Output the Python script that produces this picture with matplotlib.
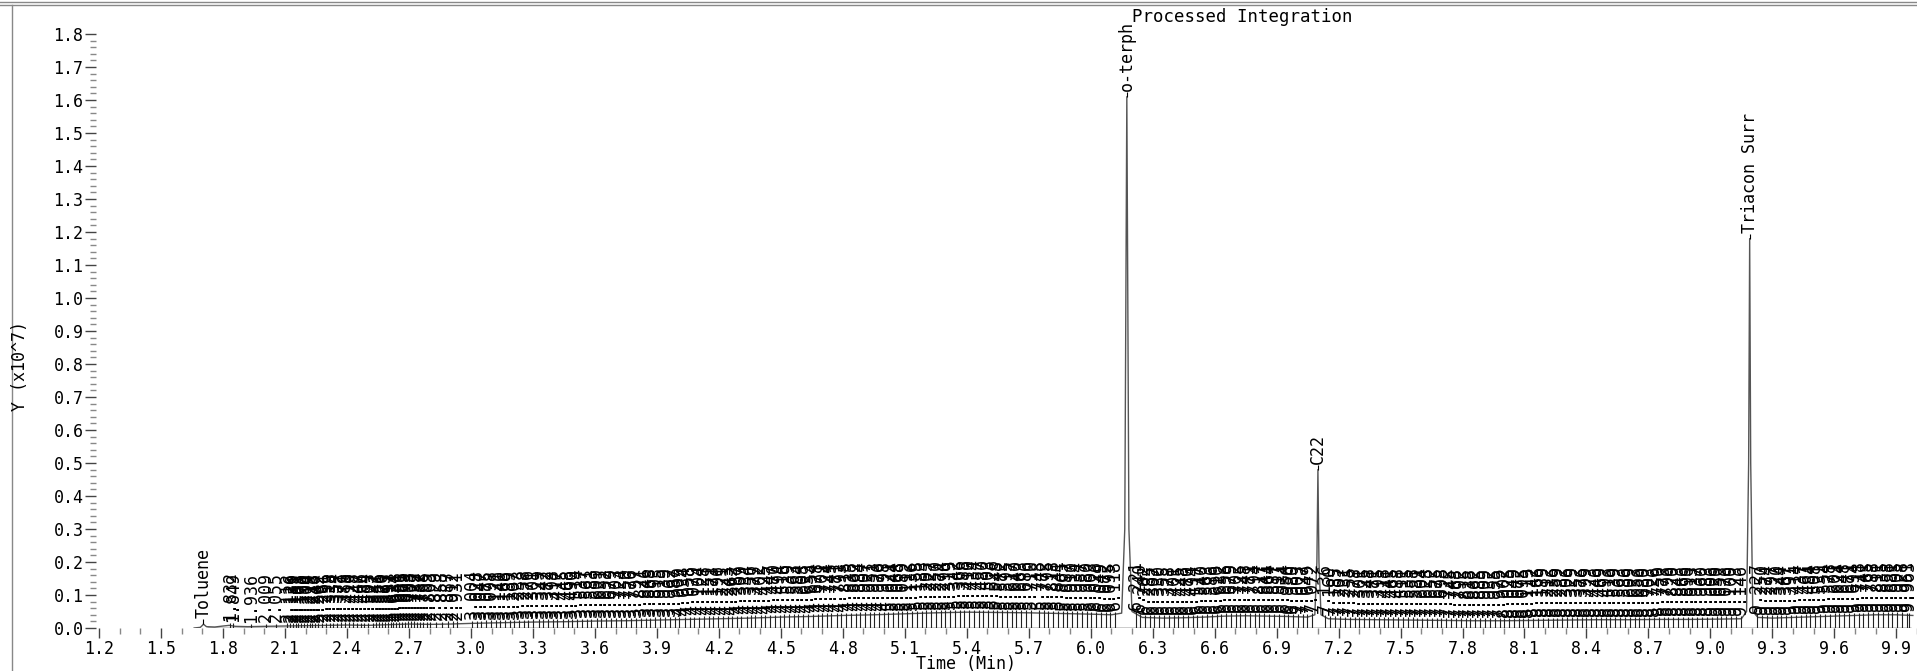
import numpy as np
import matplotlib
matplotlib.use("Agg")
import matplotlib.pyplot as plt
from matplotlib.ticker import MultipleLocator
from matplotlib.lines import Line2D

plt.rcParams['font.family'] = ['DejaVu Sans Mono']

# chromatogram trace (time in min, signal in 1e7)
trace_t = [1.66, 1.69, 1.700, 1.705, 1.712, 1.72, 1.76, 1.80, 1.83, 1.86, 1.92, 2.00,
           2.10, 2.20, 2.30, 2.40, 2.50, 2.60, 2.70, 2.80, 2.90, 3.00, 3.15, 3.30,
           3.45, 3.60, 3.75, 3.90, 4.05, 4.20, 4.35, 4.50, 4.65, 4.80, 4.95, 5.10,
           5.25, 5.40, 5.55, 5.70, 5.85, 6.00, 6.10, 6.150, 6.165, 6.175, 6.185, 6.200,
           6.25, 6.35, 6.45, 6.55, 6.65, 6.75, 6.85, 6.95, 7.05, 7.085, 7.095, 7.100,
           7.105, 7.115, 7.15, 7.25, 7.40, 7.55, 7.70, 7.85, 8.00, 8.15, 8.30, 8.45,
           8.60, 8.75, 8.90, 9.05, 9.15, 9.175, 9.185, 9.190, 9.195, 9.205, 9.23, 9.30,
           9.40, 9.50, 9.60, 9.70, 9.80, 9.90, 9.98]
trace_y = [0.000, 0.002, 0.008, 0.012, 0.008, 0.004, 0.003, 0.006, 0.008, 0.005, 0.004, 0.005,
           0.006, 0.007, 0.008, 0.009, 0.008, 0.010, 0.012, 0.011, 0.012, 0.014, 0.016, 0.018,
           0.019, 0.021, 0.022, 0.024, 0.026, 0.028, 0.030, 0.033, 0.035, 0.038, 0.040, 0.043,
           0.046, 0.048, 0.047, 0.046, 0.044, 0.042, 0.040, 0.045, 0.300, 1.610, 0.300, 0.050,
           0.032, 0.030, 0.031, 0.033, 0.036, 0.037, 0.036, 0.035, 0.033, 0.040, 0.200, 0.480,
           0.200, 0.040, 0.028, 0.026, 0.025, 0.024, 0.023, 0.022, 0.022, 0.023, 0.024, 0.025,
           0.025, 0.026, 0.026, 0.027, 0.028, 0.050, 0.500, 1.180, 0.500, 0.050, 0.032, 0.030,
           0.032, 0.034, 0.036, 0.038, 0.040, 0.040, 0.038]

# named peaks
named_rt = [1.705, 6.175, 7.100, 9.190]
named_txt = ["Toluene", "o-terph", "C22", "Triacon Surr"]

# unnamed integrated peaks (retention times printed as labels)
peak_rt = [
    1.832, 1.849, 1.936, 2.009, 2.055,
    2.112, 2.126, 2.139, 2.151, 2.163, 2.178, 2.190, 2.204, 2.219, 2.233, 2.246, 2.262,
    2.281, 2.296, 2.318, 2.334, 2.352, 2.371, 2.389, 2.410, 2.428, 2.447, 2.466, 2.484,
    2.503, 2.527, 2.541, 2.556, 2.570, 2.583, 2.597, 2.611, 2.624, 2.638, 2.651, 2.665,
    2.679, 2.693, 2.708, 2.722, 2.737, 2.752, 2.768, 2.785, 2.803, 2.829, 2.858, 2.887,
    2.912, 2.931,
    3.004, 3.028, 3.047, 3.075, 3.098, 3.121, 3.140, 3.166, 3.189, 3.207, 3.233, 3.258,
    3.276, 3.301, 3.329, 3.347, 3.372, 3.398, 3.417, 3.445, 3.468, 3.490, 3.514, 3.537,
    3.561, 3.583, 3.609, 3.631, 3.652, 3.679, 3.703, 3.724, 3.750, 3.776, 3.797, 3.821,
    3.846, 3.868, 3.893, 3.915, 3.939, 3.962, 3.987, 4.009, 4.034, 4.058, 4.079, 4.104,
    4.128, 4.151, 4.173, 4.196,
    4.221, 4.243, 4.262, 4.287, 4.309, 4.334, 4.356, 4.377, 4.402, 4.425, 4.447, 4.470,
    4.494, 4.516, 4.539, 4.563, 4.584, 4.608, 4.633, 4.654, 4.678, 4.701, 4.724, 4.745,
    4.771, 4.793, 4.815, 4.838, 4.862, 4.884, 4.907, 4.931, 4.953, 4.976, 4.998,
    5.021, 5.044, 5.068, 5.089, 5.112, 5.136, 5.158, 5.183, 5.205, 5.227, 5.250, 5.274,
    5.296, 5.319, 5.342, 5.366, 5.388, 5.410, 5.434, 5.457, 5.480, 5.503, 5.526, 5.548,
    5.572, 5.595, 5.617, 5.640, 5.663, 5.686, 5.710, 5.748, 5.772, 5.795, 5.818, 5.841,
    5.865, 5.887, 5.910, 5.934, 5.957, 5.980, 6.003, 6.026, 6.049, 6.072, 6.095, 6.118,
    6.221, 6.240, 6.262, 6.285, 6.307, 6.330, 6.355, 6.378, 6.401, 6.425, 6.448, 6.470,
    6.494, 6.517, 6.540, 6.563, 6.586, 6.610, 6.632, 6.656, 6.679, 6.702, 6.725, 6.748,
    6.771, 6.794, 6.817, 6.841, 6.864, 6.887, 6.911, 6.934, 6.956, 6.980, 7.003, 7.027,
    7.049, 7.072,
    7.136, 7.160, 7.185, 7.207, 7.231, 7.255, 7.278, 7.301, 7.325, 7.348, 7.371, 7.395,
    7.418, 7.441, 7.465, 7.488, 7.511, 7.535, 7.558, 7.581, 7.604, 7.628, 7.652, 7.675,
    7.698, 7.722, 7.745, 7.768, 7.792, 7.815, 7.838, 7.862, 7.885, 7.909, 7.932, 7.955,
    7.979, 8.002, 8.025, 8.049, 8.072, 8.095, 8.119, 8.142, 8.166, 8.189, 8.212, 8.236,
    8.259, 8.282, 8.306, 8.329, 8.352, 8.376, 8.399, 8.423, 8.446, 8.469, 8.493, 8.516,
    8.539, 8.563, 8.586, 8.609, 8.633, 8.656, 8.680, 8.703, 8.726, 8.750, 8.773, 8.796,
    8.820, 8.843, 8.866, 8.890, 8.913, 8.937, 8.960, 8.983, 9.006, 9.030, 9.053, 9.076,
    9.100, 9.123, 9.146,
    9.227, 9.250, 9.274, 9.297, 9.320, 9.344, 9.367, 9.391, 9.414, 9.437, 9.461, 9.484,
    9.508, 9.531, 9.554, 9.578, 9.601, 9.624, 9.648, 9.671, 9.694, 9.718, 9.741, 9.765,
    9.788, 9.811, 9.835, 9.858, 9.881, 9.905, 9.928, 9.951, 9.963,
]

W, H = 1917, 671
fig = plt.figure(figsize=(W / 100, H / 100), dpi=100)
ax = fig.add_axes([96 / W, 43 / H, (W - 96) / W, 594 / H])
ax.set_xlim(1.185, 10.0)
ax.set_ylim(0, 1.8)
for s in ax.spines.values():
    s.set_visible(False)

ax.plot(trace_t, trace_y, color='#555555', lw=1.0)
ax.hlines(0, 1.72, 9.97, color='black', lw=1.0)

base = np.interp(peak_rt, trace_t, trace_y)
ax.vlines(peak_rt, 0, base + 0.008, color='#222222', lw=0.8)
for rt, b in zip(peak_rt, base):
    ax.text(rt, b + 0.012, f"{rt:.3f}", rotation=90, ha='center', va='bottom',
            fontsize=12, color='black', clip_on=False)

named_base = np.interp(named_rt, trace_t, trace_y)
for rt, b, name in zip(named_rt, named_base, named_txt):
    ax.vlines(rt, b, b + 0.015, color='black', lw=0.8)
    ax.text(rt, b + 0.017, name, rotation=90, ha='center', va='bottom',
            fontsize=12, color='black', clip_on=False)

ax.xaxis.set_major_locator(MultipleLocator(0.3))
ax.xaxis.set_minor_locator(MultipleLocator(0.1))
ax.yaxis.set_major_locator(MultipleLocator(0.1))
ax.yaxis.set_minor_locator(MultipleLocator(0.02))
ax.xaxis.set_major_formatter(lambda v, p: f"{v:.1f}")
ax.yaxis.set_major_formatter(lambda v, p: f"{v:.1f}")
ax.tick_params(which='major', direction='out', length=7, width=1, color='#444444',
               labelsize=12, pad=2)
ax.tick_params(which='minor', direction='out', length=4, width=1, color='#888888')
ax.tick_params(axis='y', which='major', length=8, pad=1)

fig.text(20 / W, 1 - 366 / H, "Y (x10^7)", rotation=90, ha='center', va='center', fontsize=12)
fig.text(966 / W, 1 - 664 / H, "Time (Min)", ha='center', va='center', fontsize=12)
fig.text(1132 / W, 1 - 17 / H, "Processed Integration", ha='left', va='center', fontsize=12.5)

# window frame lines
fig.add_artist(Line2D([0, 1], [1 - 2 / H, 1 - 2 / H], color='#888888', lw=1))
fig.add_artist(Line2D([0, 1], [1 - 5 / H, 1 - 5 / H], color='#888888', lw=1))
fig.add_artist(Line2D([12 / W, 12 / W], [0, 1 - 5 / H], color='#888888', lw=1))

fig.savefig("out.png", dpi=100)
